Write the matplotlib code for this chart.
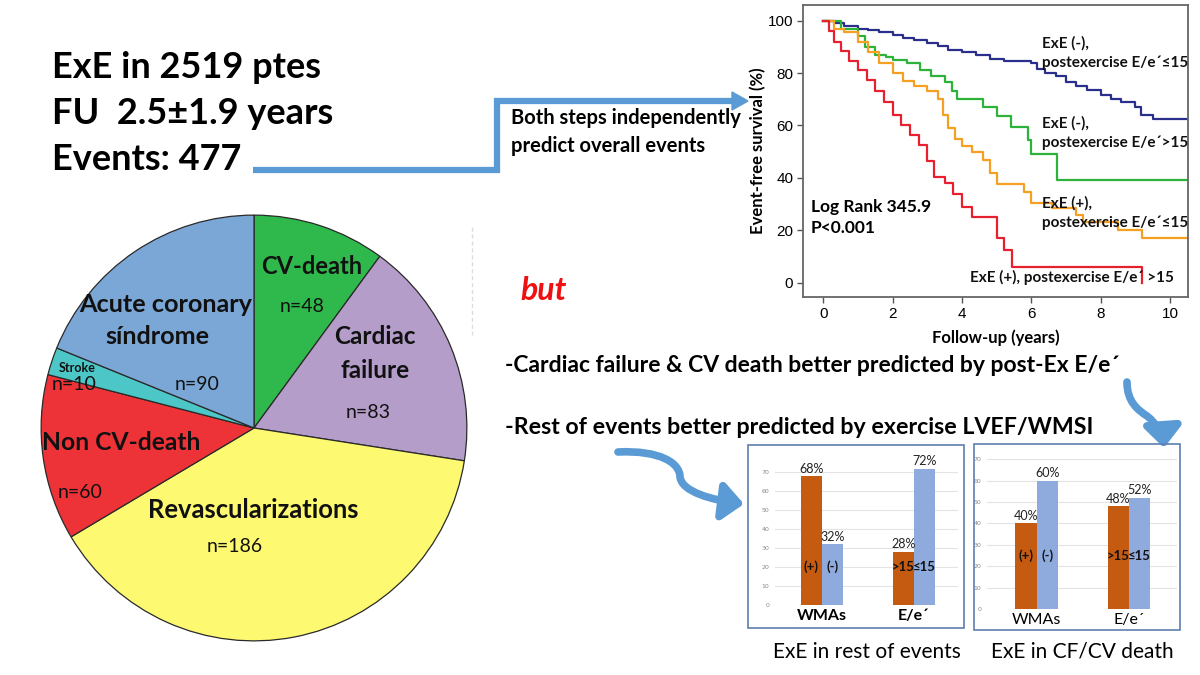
import numpy as np
import matplotlib.pyplot as plt
from matplotlib.patches import Rectangle, FancyArrowPatch, Polygon
from matplotlib.path import Path

W, H = 1200, 675

# pie: events by type
pie_labels = ['CV-death', 'Cardiac failure', 'Revascularizations',
              'Non CV-death', 'Stroke', 'Acute coronary síndrome']
pie_counts = [48, 83, 186, 60, 10, 90]
pie_colors = ['#2fb84b', '#b49dc9', '#fdf971', '#ee3338', '#4cc6c6', '#7ba7d7']

# Kaplan-Meier curves (years, event-free survival %)
km_blue_t = [0, 0.3, 0.6, 1.0, 1.3, 1.6, 2.0, 2.3, 2.6, 3.0, 3.3, 3.6, 4.0, 4.4, 4.8,
             5.2, 5.6, 6.0, 6.15, 6.4, 6.7, 7.0, 7.3, 7.6, 8.0, 8.3, 8.6, 9.0, 9.15, 9.5, 10.52]
km_blue_s = [100, 99, 98, 97, 96.5, 95.5, 94.5, 93.5, 92.5, 91.5, 90.5, 89, 88, 87, 85.5,
             84.6, 84.6, 84.0, 81.5, 80, 79, 76.7, 75, 73.5, 71.5, 70, 69, 67, 64, 62.3, 62.3]
km_green_t = [0, 0.5, 1.0, 1.2, 1.5, 1.8, 2.0, 2.4, 2.8, 3.1, 3.5, 3.7, 3.85, 4.2, 4.6,
              5.0, 5.4, 5.9, 6.0, 6.75, 10.52]
km_green_s = [100, 97, 94, 90, 87, 86, 85, 84, 81, 79, 76.5, 73, 70, 70, 67,
              63.5, 59.5, 54.5, 49, 39.2, 39.2]
km_orange_t = [0, 0.3, 0.6, 1.0, 1.3, 1.6, 2.0, 2.3, 2.6, 3.0, 3.3, 3.45, 3.6, 3.8, 4.0,
               4.3, 4.6, 4.8, 5.0, 5.3, 5.8, 6.0, 6.6, 7.3, 7.5, 8.5, 9.2, 10.52]
km_orange_s = [100, 97, 95.5, 92, 88, 84, 80, 77, 75, 73, 70, 64, 59, 55, 52,
               50, 47, 42, 37.5, 37.5, 34.5, 30.3, 28.4, 25.8, 23.3, 20.1, 17, 17]
km_red_t = [0, 0.15, 0.3, 0.5, 0.75, 1.0, 1.25, 1.5, 1.75, 2.0, 2.25, 2.5, 2.75, 3.0,
            3.2, 3.5, 3.75, 4.0, 4.3, 5.0, 5.2, 5.45, 9.2]
km_red_s = [100, 96, 92, 88.5, 84.5, 81, 77.5, 73, 69, 64, 60, 56.5, 52.5, 46.5,
            40.5, 38, 34, 29, 25.2, 16.9, 12.5, 6.1, 0]

# bar charts
bar_cats = ['WMAs', 'E/e´']
rest_pos = [68, 28]
rest_neg = [32, 72]
cf_pos = [40, 48]
cf_neg = [60, 52]
inner_pos = ['(+)', '>15']
inner_neg = ['(-)', '≤15']

BLUE_ARROW = '#5b9bd5'
ORANGE_BAR = '#c55a11'
BLUE_BAR = '#8faadc'
FONT = 'Lato'


def rect(x0, y0, x1, y1):
    return [x0 / W, 1 - y1 / H, (x1 - x0) / W, (y1 - y0) / H]


fig = plt.figure(figsize=(12, 6.75), dpi=100)
fig.patch.set_facecolor('white')

# ---- pie ----
axp = fig.add_axes(rect(39, 213, 469, 643))
axp.pie(pie_counts, colors=pie_colors, startangle=90, counterclock=False,
        wedgeprops=dict(edgecolor='#2a2a2a', linewidth=0.9))
axp.set_xlim(-1.01, 1.01)
axp.set_ylim(-1.01, 1.01)

# ---- Kaplan-Meier ----
axk = fig.add_axes(rect(803, 5, 1188, 297))
for t, s, c in [(km_blue_t, km_blue_s, '#2b2f8c'), (km_green_t, km_green_s, '#2db33a'),
                (km_orange_t, km_orange_s, '#f5a023'), (km_red_t, km_red_s, '#e6202e')]:
    axk.step(t, s, where='post', color=c, lw=1.6)
axk.set_xlim(-0.59, 10.52)
axk.set_ylim(-5.5, 106)
axk.set_xticks(range(0, 11, 2))
axk.set_yticks(range(0, 101, 20))
axk.tick_params(labelsize=11, length=4, color='#555555', width=1, pad=3)
for lab in axk.get_xticklabels() + axk.get_yticklabels():
    lab.set_fontfamily('Liberation Sans')
for sp in axk.spines.values():
    sp.set_color('#666666')
    sp.set_linewidth(1.3)
axk.set_xlabel('Follow-up (years)', fontsize=12, fontweight='bold', family=FONT, labelpad=6)
axk.set_ylabel('Event-free survival (%)', fontsize=12, fontweight='bold', family=FONT, labelpad=1)

# ---- bar charts ----
def bar_panel(r, xl, ylim, pos, neg, inner_y, bold_cats):
    ax = fig.add_axes(r)
    x = np.arange(len(bar_cats))
    bw = 0.232
    b1 = ax.bar(x - bw / 2, pos, bw, color=ORANGE_BAR, zorder=3)
    b2 = ax.bar(x + bw / 2, neg, bw, color=BLUE_BAR, zorder=3)
    for bars, vals in [(b1, pos), (b2, neg)]:
        for b, v in zip(bars, vals):
            ax.text(b.get_x() + b.get_width() / 2, v + 0.8, f'{v}%', ha='center', va='bottom',
                    fontsize=9, family=FONT, color='#222222')
    for i in range(len(bar_cats)):
        ax.text(x[i] - bw / 2, inner_y, inner_pos[i], ha='center', va='center', fontsize=9.5,
                fontweight='bold', family=FONT, color='#111111', zorder=4)
        ax.text(x[i] + bw / 2, inner_y, inner_neg[i], ha='center', va='center', fontsize=9.5,
                fontweight='bold', family=FONT, color='#111111', zorder=4)
    ax.set_xlim(*xl)
    ax.set_ylim(*ylim)
    ax.set_yticks(range(0, 71, 10))
    ax.yaxis.grid(True, color='#e3e3e3', lw=0.8, zorder=0)
    ax.set_xticks(x)
    ax.set_xticklabels(bar_cats, fontsize=11.5, family=FONT,
                       fontweight='bold' if bold_cats else 'normal')
    ax.tick_params(axis='y', labelsize=4.5, labelcolor='#888888', length=0, pad=4)
    ax.tick_params(axis='x', length=0, pad=3)
    for sp in ax.spines.values():
        sp.set_visible(False)
    ax.set_facecolor('none')
    return ax


bar_panel(rect(775, 462, 958, 605), (-0.51, 1.48), (0, 75.5), rest_pos, rest_neg, 20, True)
bar_panel(rect(987, 450, 1177, 609), (-0.54, 1.52), (0, 74.3), cf_pos, cf_neg, 25, False)

# ---- overlay for text and arrows ----
ov = fig.add_axes([0, 0, 1, 1], zorder=10)
ov.set_xlim(0, W)
ov.set_ylim(H, 0)
ov.axis('off')
ov.patch.set_alpha(0)

# headline text
for y, s in [(68, 'ExE in 2519 ptes'), (113, 'FU  2.5±1.9 years'), (160, 'Events: 477')]:
    ov.text(52, y, s, fontsize=26, fontweight='bold', family=FONT, va='center', ha='left')

# elbow arrow to KM plot
ov.plot([253, 497, 497, 735], [170, 170, 101, 101], color=BLUE_ARROW, lw=4.5,
        solid_joinstyle='miter', solid_capstyle='butt')
ov.add_patch(Polygon([[732, 92], [748, 101], [732, 110]], closed=True, color=BLUE_ARROW))
ov.text(511, 118, 'Both steps independently', fontsize=14.5, fontweight='bold', family=FONT, va='center')
ov.text(511, 146, 'predict overall events', fontsize=14.5, fontweight='bold', family=FONT, va='center')

# KM annotations
km_txt = dict(fontsize=11, fontweight='bold', family=FONT, va='center', ha='left', color='#111111')
ov.text(1042, 43, 'ExE (-),', **km_txt)
ov.text(1042, 63, 'postexercise E/e´≤15', **km_txt)
ov.text(1042, 123, 'ExE (-),', **km_txt)
ov.text(1042, 143, 'postexercise E/e´>15', **km_txt)
ov.text(1042, 203, 'ExE (+),', **km_txt)
ov.text(1042, 223, 'postexercise E/e´≤15', **km_txt)
ov.text(970, 277, 'ExE (+), postexercise E/e´ >15', **km_txt)
ov.text(811, 207, 'Log Rank 345.9', fontsize=12.5, fontweight='bold', family=FONT, va='center')
ov.text(811, 228, 'P<0.001', fontsize=12.5, fontweight='bold', family=FONT, va='center')

# middle statements
ov.text(520, 290, 'but', fontsize=23, fontweight='bold', fontstyle='italic', color='#ee1111',
        family=FONT, va='center')
ov.text(505, 365, '-Cardiac failure & CV death better predicted by post-Ex E/e´', fontsize=16.5,
        fontweight='bold', family=FONT, va='center')
ov.text(505, 427, '-Rest of events better predicted by exercise LVEF/WMSI', fontsize=16.7,
        fontweight='bold', family=FONT, va='center')

# curved arrows
p1 = Path([(618, 452), (660, 450), (680, 463), (680, 477), (682, 492), (712, 500), (744, 504)],
          [Path.MOVETO, Path.CURVE4, Path.CURVE4, Path.CURVE4, Path.CURVE4, Path.CURVE4, Path.CURVE4])
p2 = Path([(1127, 382), (1127, 402), (1138, 410), (1147, 416), (1157, 424), (1163, 434), (1164, 448)],
          [Path.MOVETO, Path.CURVE4, Path.CURVE4, Path.CURVE4, Path.CURVE4, Path.CURVE4, Path.CURVE4])
for p in (p1, p2):
    ov.add_patch(FancyArrowPatch(path=p, arrowstyle='-|>,head_length=0.9,head_width=0.8',
                                 mutation_scale=14, lw=5.5, color=BLUE_ARROW))

# pie labels
lb = dict(fontweight='bold', family=FONT, ha='center', va='center', color='#111111')
nb = dict(family=FONT, ha='center', va='center', color='#111111')
ov.text(312, 267, 'CV-death', fontsize=17, **lb)
ov.text(302, 306, 'n=48', fontsize=14, **nb)
ov.text(375, 337, 'Cardiac', fontsize=17.5, **lb)
ov.text(375, 370, 'failure', fontsize=17.5, **lb)
ov.text(368, 412, 'n=83', fontsize=14, **nb)
ov.text(253, 510, 'Revascularizations', fontsize=18.4, **lb)
ov.text(235, 547, 'n=186', fontsize=14, **nb)
ov.text(121, 443, 'Non CV-death', fontsize=17.7, **lb)
ov.text(80, 493, 'n=60', fontsize=14, **nb)
ov.text(77, 368, 'Stroke', fontsize=9, **lb)
ov.text(74, 384, 'n=10', fontsize=14, **nb)
ov.text(166, 304, 'Acute coronary', fontsize=18.2, **lb)
ov.text(157, 337, 'síndrome', fontsize=18.2, **lb)
ov.text(197, 384, 'n=90', fontsize=14, **nb)
ov.plot([472, 472], [227, 335], color='#dddddd', lw=1, ls=(0, (3, 2)))

# bar panel frames and captions
ov.add_patch(Rectangle((748, 445), 216, 183, fill=False, ec='#5f7fae', lw=1.2))
ov.add_patch(Rectangle((974, 444), 206, 186, fill=False, ec='#5f7fae', lw=1.2))
ov.text(867, 652, 'ExE in rest of events', fontsize=15, family=FONT, ha='center', va='center')
ov.text(1082, 652, 'ExE in CF/CV death', fontsize=15, family=FONT, ha='center', va='center')

fig.savefig('out.png', dpi=100)
